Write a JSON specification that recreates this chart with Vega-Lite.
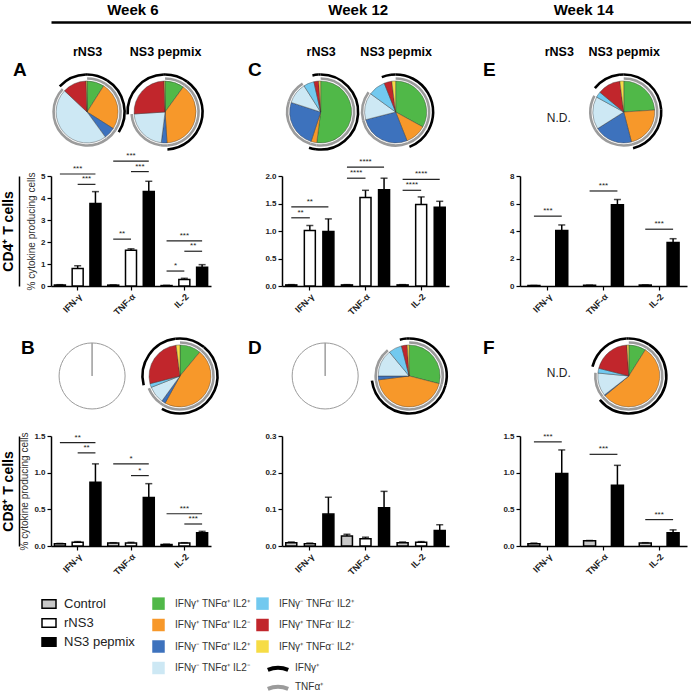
{
  "$schema": "https://vega.github.io/schema/vega-lite/v6.json",
  "background": "white",
  "padding": {"left": 1, "top": 2, "right": 0, "bottom": 0},
  "config": {
    "font": "Liberation Sans",
    "view": {"stroke": null},
    "axis": {"domainColor": "black", "domainWidth": 1.5, "tickColor": "black", "tickWidth": 1.2, "grid": false, "labelColor": "#222"}
  },
  "datasets": {
    "pies": [
      {"panel":"A","stim":"rNS3","subset":"IFNγ⁺ TNFα⁺ IL2⁺","ord":1,"value":0.09},
      {"panel":"A","stim":"rNS3","subset":"IFNγ⁺ TNFα⁺ IL2⁻","ord":2,"value":0.25},
      {"panel":"A","stim":"rNS3","subset":"IFNγ⁻ TNFα⁺ IL2⁺","ord":3,"value":0.06},
      {"panel":"A","stim":"rNS3","subset":"IFNγ⁻ TNFα⁺ IL2⁻","ord":4,"value":0.47},
      {"panel":"A","stim":"rNS3","subset":"IFNγ⁺ TNFα⁻ IL2⁻","ord":6,"value":0.125},
      {"panel":"A","stim":"rNS3","subset":"IFNγ⁺ TNFα⁻ IL2⁺","ord":7,"value":0.005},
      {"panel":"A","stim":"NS3 pepmix","subset":"IFNγ⁺ TNFα⁺ IL2⁺","ord":1,"value":0.10},
      {"panel":"A","stim":"NS3 pepmix","subset":"IFNγ⁺ TNFα⁺ IL2⁻","ord":2,"value":0.39},
      {"panel":"A","stim":"NS3 pepmix","subset":"IFNγ⁻ TNFα⁺ IL2⁺","ord":3,"value":0.03},
      {"panel":"A","stim":"NS3 pepmix","subset":"IFNγ⁻ TNFα⁺ IL2⁻","ord":4,"value":0.22},
      {"panel":"A","stim":"NS3 pepmix","subset":"IFNγ⁺ TNFα⁻ IL2⁻","ord":6,"value":0.255},
      {"panel":"A","stim":"NS3 pepmix","subset":"IFNγ⁺ TNFα⁻ IL2⁺","ord":7,"value":0.005},
      {"panel":"C","stim":"rNS3","subset":"IFNγ⁺ TNFα⁺ IL2⁺","ord":1,"value":0.52},
      {"panel":"C","stim":"rNS3","subset":"IFNγ⁺ TNFα⁺ IL2⁻","ord":2,"value":0.03},
      {"panel":"C","stim":"rNS3","subset":"IFNγ⁻ TNFα⁺ IL2⁺","ord":3,"value":0.25},
      {"panel":"C","stim":"rNS3","subset":"IFNγ⁻ TNFα⁺ IL2⁻","ord":4,"value":0.11},
      {"panel":"C","stim":"rNS3","subset":"IFNγ⁻ TNFα⁻ IL2⁺","ord":5,"value":0.055},
      {"panel":"C","stim":"rNS3","subset":"IFNγ⁺ TNFα⁻ IL2⁻","ord":6,"value":0.025},
      {"panel":"C","stim":"rNS3","subset":"IFNγ⁺ TNFα⁻ IL2⁺","ord":7,"value":0.01},
      {"panel":"C","stim":"NS3 pepmix","subset":"IFNγ⁺ TNFα⁺ IL2⁺","ord":1,"value":0.33},
      {"panel":"C","stim":"NS3 pepmix","subset":"IFNγ⁺ TNFα⁺ IL2⁻","ord":2,"value":0.11},
      {"panel":"C","stim":"NS3 pepmix","subset":"IFNγ⁻ TNFα⁺ IL2⁺","ord":3,"value":0.27},
      {"panel":"C","stim":"NS3 pepmix","subset":"IFNγ⁻ TNFα⁺ IL2⁻","ord":4,"value":0.14},
      {"panel":"C","stim":"NS3 pepmix","subset":"IFNγ⁻ TNFα⁻ IL2⁺","ord":5,"value":0.09},
      {"panel":"C","stim":"NS3 pepmix","subset":"IFNγ⁺ TNFα⁻ IL2⁻","ord":6,"value":0.04},
      {"panel":"C","stim":"NS3 pepmix","subset":"IFNγ⁺ TNFα⁻ IL2⁺","ord":7,"value":0.02},
      {"panel":"E","stim":"NS3 pepmix","subset":"IFNγ⁺ TNFα⁺ IL2⁺","ord":1,"value":0.24},
      {"panel":"E","stim":"NS3 pepmix","subset":"IFNγ⁺ TNFα⁺ IL2⁻","ord":2,"value":0.22},
      {"panel":"E","stim":"NS3 pepmix","subset":"IFNγ⁻ TNFα⁺ IL2⁺","ord":3,"value":0.20},
      {"panel":"E","stim":"NS3 pepmix","subset":"IFNγ⁻ TNFα⁺ IL2⁻","ord":4,"value":0.17},
      {"panel":"E","stim":"NS3 pepmix","subset":"IFNγ⁻ TNFα⁻ IL2⁺","ord":5,"value":0.03},
      {"panel":"E","stim":"NS3 pepmix","subset":"IFNγ⁺ TNFα⁻ IL2⁻","ord":6,"value":0.12},
      {"panel":"E","stim":"NS3 pepmix","subset":"IFNγ⁺ TNFα⁻ IL2⁺","ord":7,"value":0.02},
      {"panel":"B","stim":"rNS3","subset":"none","ord":1,"value":1},
      {"panel":"B","stim":"NS3 pepmix","subset":"IFNγ⁺ TNFα⁺ IL2⁺","ord":1,"value":0.11},
      {"panel":"B","stim":"NS3 pepmix","subset":"IFNγ⁺ TNFα⁺ IL2⁻","ord":2,"value":0.47},
      {"panel":"B","stim":"NS3 pepmix","subset":"IFNγ⁻ TNFα⁺ IL2⁺","ord":3,"value":0.02},
      {"panel":"B","stim":"NS3 pepmix","subset":"IFNγ⁻ TNFα⁺ IL2⁻","ord":4,"value":0.09},
      {"panel":"B","stim":"NS3 pepmix","subset":"IFNγ⁻ TNFα⁻ IL2⁺","ord":5,"value":0.02},
      {"panel":"B","stim":"NS3 pepmix","subset":"IFNγ⁺ TNFα⁻ IL2⁻","ord":6,"value":0.27},
      {"panel":"B","stim":"NS3 pepmix","subset":"IFNγ⁺ TNFα⁻ IL2⁺","ord":7,"value":0.02},
      {"panel":"D","stim":"rNS3","subset":"none","ord":1,"value":1},
      {"panel":"D","stim":"NS3 pepmix","subset":"IFNγ⁺ TNFα⁺ IL2⁺","ord":1,"value":0.29},
      {"panel":"D","stim":"NS3 pepmix","subset":"IFNγ⁺ TNFα⁺ IL2⁻","ord":2,"value":0.44},
      {"panel":"D","stim":"NS3 pepmix","subset":"IFNγ⁻ TNFα⁺ IL2⁺","ord":3,"value":0.02},
      {"panel":"D","stim":"NS3 pepmix","subset":"IFNγ⁻ TNFα⁺ IL2⁻","ord":4,"value":0.14},
      {"panel":"D","stim":"NS3 pepmix","subset":"IFNγ⁻ TNFα⁻ IL2⁺","ord":5,"value":0.07},
      {"panel":"D","stim":"NS3 pepmix","subset":"IFNγ⁺ TNFα⁻ IL2⁻","ord":6,"value":0.03},
      {"panel":"D","stim":"NS3 pepmix","subset":"IFNγ⁺ TNFα⁻ IL2⁺","ord":7,"value":0.01},
      {"panel":"F","stim":"NS3 pepmix","subset":"IFNγ⁺ TNFα⁺ IL2⁺","ord":1,"value":0.09},
      {"panel":"F","stim":"NS3 pepmix","subset":"IFNγ⁺ TNFα⁺ IL2⁻","ord":2,"value":0.55},
      {"panel":"F","stim":"NS3 pepmix","subset":"IFNγ⁻ TNFα⁺ IL2⁺","ord":3,"value":0.005},
      {"panel":"F","stim":"NS3 pepmix","subset":"IFNγ⁻ TNFα⁺ IL2⁻","ord":4,"value":0.12},
      {"panel":"F","stim":"NS3 pepmix","subset":"IFNγ⁻ TNFα⁻ IL2⁺","ord":5,"value":0.025},
      {"panel":"F","stim":"NS3 pepmix","subset":"IFNγ⁺ TNFα⁻ IL2⁻","ord":6,"value":0.20},
      {"panel":"F","stim":"NS3 pepmix","subset":"IFNγ⁺ TNFα⁻ IL2⁺","ord":7,"value":0.01}
    ],
    "bars": [
      {"panel":"A","cyto":"IFN-γ","group":"Control","value":0.05,"hi":0.06},
      {"panel":"A","cyto":"IFN-γ","group":"rNS3","value":0.8,"hi":0.92},
      {"panel":"A","cyto":"IFN-γ","group":"NS3 pepmix","value":3.75,"hi":4.29},
      {"panel":"A","cyto":"TNF-α","group":"Control","value":0.04,"hi":0.05},
      {"panel":"A","cyto":"TNF-α","group":"rNS3","value":1.62,"hi":1.69},
      {"panel":"A","cyto":"TNF-α","group":"NS3 pepmix","value":4.3,"hi":4.76},
      {"panel":"A","cyto":"IL-2","group":"Control","value":0.02,"hi":0.03},
      {"panel":"A","cyto":"IL-2","group":"rNS3","value":0.3,"hi":0.35},
      {"panel":"A","cyto":"IL-2","group":"NS3 pepmix","value":0.85,"hi":0.97},
      {"panel":"C","cyto":"IFN-γ","group":"Control","value":0.02,"hi":0.025},
      {"panel":"C","cyto":"IFN-γ","group":"rNS3","value":1.01,"hi":1.1},
      {"panel":"C","cyto":"IFN-γ","group":"NS3 pepmix","value":0.99,"hi":1.22},
      {"panel":"C","cyto":"TNF-α","group":"Control","value":0.02,"hi":0.025},
      {"panel":"C","cyto":"TNF-α","group":"rNS3","value":1.61,"hi":1.74},
      {"panel":"C","cyto":"TNF-α","group":"NS3 pepmix","value":1.75,"hi":1.96},
      {"panel":"C","cyto":"IL-2","group":"Control","value":0.02,"hi":0.025},
      {"panel":"C","cyto":"IL-2","group":"rNS3","value":1.48,"hi":1.62},
      {"panel":"C","cyto":"IL-2","group":"NS3 pepmix","value":1.43,"hi":1.54},
      {"panel":"E","cyto":"IFN-γ","group":"Control","value":0.03,"hi":0.04},
      {"panel":"E","cyto":"IFN-γ","group":"NS3 pepmix","value":4.04,"hi":4.44},
      {"panel":"E","cyto":"TNF-α","group":"Control","value":0.05,"hi":0.06},
      {"panel":"E","cyto":"TNF-α","group":"NS3 pepmix","value":5.91,"hi":6.29},
      {"panel":"E","cyto":"IL-2","group":"Control","value":0.07,"hi":0.08},
      {"panel":"E","cyto":"IL-2","group":"NS3 pepmix","value":3.16,"hi":3.44},
      {"panel":"B","cyto":"IFN-γ","group":"Control","value":0.03,"hi":0.035},
      {"panel":"B","cyto":"IFN-γ","group":"rNS3","value":0.05,"hi":0.06},
      {"panel":"B","cyto":"IFN-γ","group":"NS3 pepmix","value":0.87,"hi":1.12},
      {"panel":"B","cyto":"TNF-α","group":"Control","value":0.04,"hi":0.045},
      {"panel":"B","cyto":"TNF-α","group":"rNS3","value":0.04,"hi":0.05},
      {"panel":"B","cyto":"TNF-α","group":"NS3 pepmix","value":0.66,"hi":0.85},
      {"panel":"B","cyto":"IL-2","group":"Control","value":0.02,"hi":0.025},
      {"panel":"B","cyto":"IL-2","group":"rNS3","value":0.04,"hi":0.045},
      {"panel":"B","cyto":"IL-2","group":"NS3 pepmix","value":0.18,"hi":0.2},
      {"panel":"D","cyto":"IFN-γ","group":"Control","value":0.009,"hi":0.011},
      {"panel":"D","cyto":"IFN-γ","group":"rNS3","value":0.006,"hi":0.008},
      {"panel":"D","cyto":"IFN-γ","group":"NS3 pepmix","value":0.087,"hi":0.133},
      {"panel":"D","cyto":"TNF-α","group":"Control","value":0.027,"hi":0.032},
      {"panel":"D","cyto":"TNF-α","group":"rNS3","value":0.02,"hi":0.024},
      {"panel":"D","cyto":"TNF-α","group":"NS3 pepmix","value":0.104,"hi":0.149},
      {"panel":"D","cyto":"IL-2","group":"Control","value":0.009,"hi":0.011},
      {"panel":"D","cyto":"IL-2","group":"rNS3","value":0.01,"hi":0.012},
      {"panel":"D","cyto":"IL-2","group":"NS3 pepmix","value":0.042,"hi":0.058},
      {"panel":"F","cyto":"IFN-γ","group":"Control","value":0.03,"hi":0.04},
      {"panel":"F","cyto":"IFN-γ","group":"NS3 pepmix","value":0.99,"hi":1.31},
      {"panel":"F","cyto":"TNF-α","group":"Control","value":0.07,"hi":0.075},
      {"panel":"F","cyto":"TNF-α","group":"NS3 pepmix","value":0.83,"hi":1.1},
      {"panel":"F","cyto":"IL-2","group":"Control","value":0.04,"hi":0.045},
      {"panel":"F","cyto":"IL-2","group":"NS3 pepmix","value":0.18,"hi":0.22}
    ],
    "sig": [
      {"panel":"A","id":"a1","cyto":"IFN-γ","group":"Control","y":5.09},{"panel":"A","id":"a1","cyto":"IFN-γ","group":"NS3 pepmix","y":5.09},
      {"panel":"A","id":"a2","cyto":"IFN-γ","group":"rNS3","y":4.62},{"panel":"A","id":"a2","cyto":"IFN-γ","group":"NS3 pepmix","y":4.62},
      {"panel":"A","id":"a3","cyto":"TNF-α","group":"Control","y":5.68},{"panel":"A","id":"a3","cyto":"TNF-α","group":"NS3 pepmix","y":5.68},
      {"panel":"A","id":"a4","cyto":"TNF-α","group":"rNS3","y":5.2},{"panel":"A","id":"a4","cyto":"TNF-α","group":"NS3 pepmix","y":5.2},
      {"panel":"A","id":"a5","cyto":"TNF-α","group":"Control","y":2.13},{"panel":"A","id":"a5","cyto":"TNF-α","group":"rNS3","y":2.13},
      {"panel":"A","id":"a6","cyto":"IL-2","group":"Control","y":2.05},{"panel":"A","id":"a6","cyto":"IL-2","group":"NS3 pepmix","y":2.05},
      {"panel":"A","id":"a7","cyto":"IL-2","group":"rNS3","y":1.58},{"panel":"A","id":"a7","cyto":"IL-2","group":"NS3 pepmix","y":1.58},
      {"panel":"A","id":"a8","cyto":"IL-2","group":"Control","y":0.68},{"panel":"A","id":"a8","cyto":"IL-2","group":"rNS3","y":0.68},
      {"panel":"C","id":"c1","cyto":"IFN-γ","group":"Control","y":1.24},{"panel":"C","id":"c1","cyto":"IFN-γ","group":"rNS3","y":1.24},
      {"panel":"C","id":"c2","cyto":"IFN-γ","group":"Control","y":1.44},{"panel":"C","id":"c2","cyto":"IFN-γ","group":"NS3 pepmix","y":1.44},
      {"panel":"C","id":"c3","cyto":"TNF-α","group":"Control","y":1.96},{"panel":"C","id":"c3","cyto":"TNF-α","group":"rNS3","y":1.96},
      {"panel":"C","id":"c4","cyto":"TNF-α","group":"Control","y":2.16},{"panel":"C","id":"c4","cyto":"TNF-α","group":"NS3 pepmix","y":2.16},
      {"panel":"C","id":"c5","cyto":"IL-2","group":"Control","y":1.74},{"panel":"C","id":"c5","cyto":"IL-2","group":"rNS3","y":1.74},
      {"panel":"C","id":"c6","cyto":"IL-2","group":"Control","y":1.94},{"panel":"C","id":"c6","cyto":"IL-2","group":"NS3 pepmix","y":1.94},
      {"panel":"E","id":"e1","cyto":"IFN-γ","group":"Control","y":5.08},{"panel":"E","id":"e1","cyto":"IFN-γ","group":"NS3 pepmix","y":5.08},
      {"panel":"E","id":"e2","cyto":"TNF-α","group":"Control","y":6.91},{"panel":"E","id":"e2","cyto":"TNF-α","group":"NS3 pepmix","y":6.91},
      {"panel":"E","id":"e3","cyto":"IL-2","group":"Control","y":4.13},{"panel":"E","id":"e3","cyto":"IL-2","group":"NS3 pepmix","y":4.13},
      {"panel":"B","id":"b1","cyto":"IFN-γ","group":"Control","y":1.41},{"panel":"B","id":"b1","cyto":"IFN-γ","group":"NS3 pepmix","y":1.41},
      {"panel":"B","id":"b2","cyto":"IFN-γ","group":"rNS3","y":1.27},{"panel":"B","id":"b2","cyto":"IFN-γ","group":"NS3 pepmix","y":1.27},
      {"panel":"B","id":"b3","cyto":"TNF-α","group":"Control","y":1.12},{"panel":"B","id":"b3","cyto":"TNF-α","group":"NS3 pepmix","y":1.12},
      {"panel":"B","id":"b4","cyto":"TNF-α","group":"rNS3","y":0.96},{"panel":"B","id":"b4","cyto":"TNF-α","group":"NS3 pepmix","y":0.96},
      {"panel":"B","id":"b5","cyto":"IL-2","group":"Control","y":0.44},{"panel":"B","id":"b5","cyto":"IL-2","group":"NS3 pepmix","y":0.44},
      {"panel":"B","id":"b6","cyto":"IL-2","group":"rNS3","y":0.30},{"panel":"B","id":"b6","cyto":"IL-2","group":"NS3 pepmix","y":0.30},
      {"panel":"F","id":"f1","cyto":"IFN-γ","group":"Control","y":1.42},{"panel":"F","id":"f1","cyto":"IFN-γ","group":"NS3 pepmix","y":1.42},
      {"panel":"F","id":"f2","cyto":"TNF-α","group":"Control","y":1.25},{"panel":"F","id":"f2","cyto":"TNF-α","group":"NS3 pepmix","y":1.25},
      {"panel":"F","id":"f3","cyto":"IL-2","group":"Control","y":0.36},{"panel":"F","id":"f3","cyto":"IL-2","group":"NS3 pepmix","y":0.36}
    ],
    "sigtext": [
      {"panel":"A","cyto":"IFN-γ","group":"rNS3","y":5.09,"label":"***"},
      {"panel":"A","cyto":"IFN-γ","group":"m2","y":4.62,"label":"***"},
      {"panel":"A","cyto":"TNF-α","group":"rNS3","y":5.68,"label":"***"},
      {"panel":"A","cyto":"TNF-α","group":"m2","y":5.2,"label":"***"},
      {"panel":"A","cyto":"TNF-α","group":"m1","y":2.13,"label":"**"},
      {"panel":"A","cyto":"IL-2","group":"rNS3","y":2.05,"label":"***"},
      {"panel":"A","cyto":"IL-2","group":"m2","y":1.58,"label":"**"},
      {"panel":"A","cyto":"IL-2","group":"m1","y":0.68,"label":"*"},
      {"panel":"C","cyto":"IFN-γ","group":"m1","y":1.24,"label":"**"},
      {"panel":"C","cyto":"IFN-γ","group":"rNS3","y":1.44,"label":"**"},
      {"panel":"C","cyto":"TNF-α","group":"m1","y":1.96,"label":"****"},
      {"panel":"C","cyto":"TNF-α","group":"rNS3","y":2.16,"label":"****"},
      {"panel":"C","cyto":"IL-2","group":"m1","y":1.74,"label":"****"},
      {"panel":"C","cyto":"IL-2","group":"rNS3","y":1.94,"label":"****"},
      {"panel":"E","cyto":"IFN-γ","group":"mid","y":5.08,"label":"***"},
      {"panel":"E","cyto":"TNF-α","group":"mid","y":6.91,"label":"***"},
      {"panel":"E","cyto":"IL-2","group":"mid","y":4.13,"label":"***"},
      {"panel":"B","cyto":"IFN-γ","group":"rNS3","y":1.41,"label":"**"},
      {"panel":"B","cyto":"IFN-γ","group":"m2","y":1.27,"label":"**"},
      {"panel":"B","cyto":"TNF-α","group":"rNS3","y":1.12,"label":"*"},
      {"panel":"B","cyto":"TNF-α","group":"m2","y":0.96,"label":"*"},
      {"panel":"B","cyto":"IL-2","group":"rNS3","y":0.44,"label":"***"},
      {"panel":"B","cyto":"IL-2","group":"m2","y":0.30,"label":"***"},
      {"panel":"F","cyto":"IFN-γ","group":"mid","y":1.42,"label":"***"},
      {"panel":"F","cyto":"TNF-α","group":"mid","y":1.25,"label":"***"},
      {"panel":"F","cyto":"IL-2","group":"mid","y":0.36,"label":"***"}
    ]
  },
  "bounds": "flush",
  "spacing": 53,
  "vconcat": [
    {
      "width": 640, "height": 1,
      "data": {"values": [{"week": "Week 6"}, {"week": "Week 12"}, {"week": "Week 14"}]},
      "mark": {"type": "point", "opacity": 0},
      "encoding": {
        "x": {"field": "week", "type": "nominal", "sort": null,
              "scale": {"type": "point", "padding": 0.42, "align": 0.43},
              "axis": {"orient": "top", "title": null, "ticks": false, "labelAngle": 0, "labelFontSize": 15, "labelFontWeight": "bold", "labelColor": "black", "labelPadding": 5, "domainWidth": 2.5, "domainColor": "black"}}
      }
    },
    {
      "columns": 3,
      "bounds": "flush",
      "spacing": {"row": 20, "column": 71},
      "resolve": {"scale": {"xOffset": "independent", "x": "independent", "y": "independent"}},
      "concat": [
        {
          "width": 160, "height": 80,
          "title": {"text": "A", "orient": "top", "anchor": "start", "frame": "group", "fontSize": 19, "fontWeight": "bold", "color": "black", "dx": -38, "dy": 39},
          "encoding": {
            "x": {"field": "stim", "type": "nominal", "scale": {"type": "point", "domain": ["rNS3", "NS3 pepmix"], "padding": 0.526, "align": 0.44}, "axis": {"orient": "top", "title": null, "domain": false, "ticks": false, "labelAngle": 0, "labelFontSize": 12.5, "labelFontWeight": "bold", "labelColor": "black", "labelPadding": 18}},
            "y": {"datum": "c", "type": "nominal", "scale": {"type": "point", "align": 0.45}, "axis": null}
          },
          "layer": [
            {"data": {"name": "pies"}, "transform": [{"filter": "datum.panel === 'A'"}, {"stack": "value", "groupby": ["stim"], "sort": [{"field": "ord", "order": "ascending"}], "offset": "normalize", "as": ["t0", "t1"]}, {"filter": "datum.subset !== 'none'"}],
             "mark": {"type": "arc", "radius": 31, "stroke": "#333", "strokeWidth": 0.4},
             "encoding": {"theta": {"field": "t0", "type": "quantitative", "scale": {"domain": [0, 1], "range": [0, 6.2831]}}, "theta2": {"field": "t1"},
               "color": {"field": "subset", "type": "nominal", "scale": {"domain": ["IFNγ⁺ TNFα⁺ IL2⁺", "IFNγ⁺ TNFα⁺ IL2⁻", "IFNγ⁻ TNFα⁺ IL2⁺", "IFNγ⁻ TNFα⁺ IL2⁻", "IFNγ⁻ TNFα⁻ IL2⁺", "IFNγ⁺ TNFα⁻ IL2⁻", "IFNγ⁺ TNFα⁻ IL2⁺"], "range": ["#50b848", "#f7982a", "#3d72bd", "#cde8f4", "#72c9ef", "#c1262c", "#f6dc45"]},
                 "legend": {"orient": "none", "legendX": 101, "legendY": 575, "title": null, "columns": 2, "columnPadding": 6, "rowPadding": 8.5, "symbolType": "square", "symbolSize": 156, "symbolStrokeWidth": 0, "labelFontSize": 10, "labelOffset": 10, "labelColor": "#333"}}}},
            {"data": {"name": "pies"}, "transform": [{"filter": "datum.panel === 'A'"}, {"stack": "value", "groupby": ["stim"], "sort": [{"field": "ord", "order": "ascending"}], "offset": "normalize", "as": ["t0", "t1"]}, {"filter": {"field": "subset", "oneOf": ["IFNγ⁺ TNFα⁺ IL2⁺", "IFNγ⁺ TNFα⁺ IL2⁻", "IFNγ⁻ TNFα⁺ IL2⁺", "IFNγ⁻ TNFα⁺ IL2⁻"]}}],
             "mark": {"type": "arc", "radius": 33.5, "radius2": 33.5, "filled": false, "strokeWidth": 2.6},
             "encoding": {"theta": {"field": "t0", "type": "quantitative", "scale": {"domain": [0, 1], "range": [0, 6.2831]}}, "theta2": {"field": "t1"},
               "stroke": {"datum": "TNFα⁺", "type": "nominal", "scale": {"domain": ["IFNγ⁺", "TNFα⁺"], "range": ["black", "#9b9b9b"]},
                 "legend": {"orient": "none", "legendX": 219, "legendY": 638, "title": null, "symbolType": "M-1.7,0.3Q0,-0.4,1.7,0.3", "symbolSize": 144, "symbolStrokeWidth": 4, "labelFontSize": 10, "labelOffset": 9, "rowPadding": 0, "labelColor": "#333"}}}},
            {"data": {"name": "pies"}, "transform": [{"filter": "datum.panel === 'A'"}, {"stack": "value", "groupby": ["stim"], "sort": [{"field": "ord", "order": "ascending"}], "offset": "normalize", "as": ["t0", "t1"]}, {"filter": {"field": "subset", "oneOf": ["IFNγ⁺ TNFα⁺ IL2⁺", "IFNγ⁺ TNFα⁺ IL2⁻", "IFNγ⁺ TNFα⁻ IL2⁻", "IFNγ⁺ TNFα⁻ IL2⁺"]}}],
             "mark": {"type": "arc", "radius": 37.5, "radius2": 37.5, "filled": false, "strokeWidth": 2.6},
             "encoding": {"theta": {"field": "t0", "type": "quantitative", "scale": {"domain": [0, 1], "range": [0, 6.2831]}}, "theta2": {"field": "t1"},
               "stroke": {"datum": "IFNγ⁺", "type": "nominal", "scale": {"domain": ["IFNγ⁺", "TNFα⁺"], "range": ["black", "#9b9b9b"]}}}}
          ]
        },
        {
          "width": 167, "height": 80,
          "title": {"text": "C", "orient": "top", "anchor": "start", "frame": "group", "fontSize": 19, "fontWeight": "bold", "color": "black", "dx": -34, "dy": 39},
          "encoding": {
            "x": {"field": "stim", "type": "nominal", "scale": {"type": "point", "domain": ["rNS3", "NS3 pepmix"], "padding": 0.613, "align": 0.42}, "axis": {"orient": "top", "title": null, "domain": false, "ticks": false, "labelAngle": 0, "labelFontSize": 12.5, "labelFontWeight": "bold", "labelColor": "black", "labelPadding": 18}},
            "y": {"datum": "c", "type": "nominal", "scale": {"type": "point", "align": 0.45}, "axis": null}
          },
          "layer": [
            {"data": {"name": "pies"}, "transform": [{"filter": "datum.panel === 'C'"}, {"stack": "value", "groupby": ["stim"], "sort": [{"field": "ord", "order": "ascending"}], "offset": "normalize", "as": ["t0", "t1"]}, {"filter": "datum.subset !== 'none'"}],
             "mark": {"type": "arc", "radius": 31, "stroke": "#333", "strokeWidth": 0.4},
             "encoding": {"theta": {"field": "t0", "type": "quantitative", "scale": {"domain": [0, 1], "range": [0, 6.2831]}}, "theta2": {"field": "t1"},
               "color": {"field": "subset", "type": "nominal", "scale": {"domain": ["IFNγ⁺ TNFα⁺ IL2⁺", "IFNγ⁺ TNFα⁺ IL2⁻", "IFNγ⁻ TNFα⁺ IL2⁺", "IFNγ⁻ TNFα⁺ IL2⁻", "IFNγ⁻ TNFα⁻ IL2⁺", "IFNγ⁺ TNFα⁻ IL2⁻", "IFNγ⁺ TNFα⁻ IL2⁺"], "range": ["#50b848", "#f7982a", "#3d72bd", "#cde8f4", "#72c9ef", "#c1262c", "#f6dc45"]}}}},
            {"data": {"name": "pies"}, "transform": [{"filter": "datum.panel === 'C'"}, {"stack": "value", "groupby": ["stim"], "sort": [{"field": "ord", "order": "ascending"}], "offset": "normalize", "as": ["t0", "t1"]}, {"filter": {"field": "subset", "oneOf": ["IFNγ⁺ TNFα⁺ IL2⁺", "IFNγ⁺ TNFα⁺ IL2⁻", "IFNγ⁻ TNFα⁺ IL2⁺", "IFNγ⁻ TNFα⁺ IL2⁻"]}}],
             "mark": {"type": "arc", "radius": 33.5, "radius2": 33.5, "filled": false, "strokeWidth": 2.6},
             "encoding": {"theta": {"field": "t0", "type": "quantitative", "scale": {"domain": [0, 1], "range": [0, 6.2831]}}, "theta2": {"field": "t1"},
               "stroke": {"datum": "TNFα⁺", "type": "nominal", "scale": {"domain": ["IFNγ⁺", "TNFα⁺"], "range": ["black", "#9b9b9b"]}}}},
            {"data": {"name": "pies"}, "transform": [{"filter": "datum.panel === 'C'"}, {"stack": "value", "groupby": ["stim"], "sort": [{"field": "ord", "order": "ascending"}], "offset": "normalize", "as": ["t0", "t1"]}, {"filter": {"field": "subset", "oneOf": ["IFNγ⁺ TNFα⁺ IL2⁺", "IFNγ⁺ TNFα⁺ IL2⁻", "IFNγ⁺ TNFα⁻ IL2⁻", "IFNγ⁺ TNFα⁻ IL2⁺"]}}],
             "mark": {"type": "arc", "radius": 37.5, "radius2": 37.5, "filled": false, "strokeWidth": 2.6},
             "encoding": {"theta": {"field": "t0", "type": "quantitative", "scale": {"domain": [0, 1], "range": [0, 6.2831]}}, "theta2": {"field": "t1"},
               "stroke": {"datum": "IFNγ⁺", "type": "nominal", "scale": {"domain": ["IFNγ⁺", "TNFα⁺"], "range": ["black", "#9b9b9b"]}}}}
          ]
        },
        {
          "width": 167, "height": 80,
          "title": {"text": "E", "orient": "top", "anchor": "start", "frame": "group", "fontSize": 19, "fontWeight": "bold", "color": "black", "dx": -37, "dy": 39},
          "encoding": {
            "x": {"field": "stim", "type": "nominal", "scale": {"type": "point", "domain": ["rNS3", "NS3 pepmix"], "padding": 0.785, "align": 0.38}, "axis": {"orient": "top", "title": null, "domain": false, "ticks": false, "labelAngle": 0, "labelFontSize": 12.5, "labelFontWeight": "bold", "labelColor": "black", "labelPadding": 18}},
            "y": {"datum": "c", "type": "nominal", "scale": {"type": "point", "align": 0.45}, "axis": null}
          },
          "layer": [
            {"data": {"name": "pies"}, "transform": [{"filter": "datum.panel === 'E'"}, {"stack": "value", "groupby": ["stim"], "sort": [{"field": "ord", "order": "ascending"}], "offset": "normalize", "as": ["t0", "t1"]}, {"filter": "datum.subset !== 'none'"}],
             "mark": {"type": "arc", "radius": 31, "stroke": "#333", "strokeWidth": 0.4},
             "encoding": {"theta": {"field": "t0", "type": "quantitative", "scale": {"domain": [0, 1], "range": [0, 6.2831]}}, "theta2": {"field": "t1"},
               "color": {"field": "subset", "type": "nominal", "scale": {"domain": ["IFNγ⁺ TNFα⁺ IL2⁺", "IFNγ⁺ TNFα⁺ IL2⁻", "IFNγ⁻ TNFα⁺ IL2⁺", "IFNγ⁻ TNFα⁺ IL2⁻", "IFNγ⁻ TNFα⁻ IL2⁺", "IFNγ⁺ TNFα⁻ IL2⁻", "IFNγ⁺ TNFα⁻ IL2⁺"], "range": ["#50b848", "#f7982a", "#3d72bd", "#cde8f4", "#72c9ef", "#c1262c", "#f6dc45"]}}}},
            {"data": {"name": "pies"}, "transform": [{"filter": "datum.panel === 'E'"}, {"stack": "value", "groupby": ["stim"], "sort": [{"field": "ord", "order": "ascending"}], "offset": "normalize", "as": ["t0", "t1"]}, {"filter": {"field": "subset", "oneOf": ["IFNγ⁺ TNFα⁺ IL2⁺", "IFNγ⁺ TNFα⁺ IL2⁻", "IFNγ⁻ TNFα⁺ IL2⁺", "IFNγ⁻ TNFα⁺ IL2⁻"]}}],
             "mark": {"type": "arc", "radius": 33.5, "radius2": 33.5, "filled": false, "strokeWidth": 2.6},
             "encoding": {"theta": {"field": "t0", "type": "quantitative", "scale": {"domain": [0, 1], "range": [0, 6.2831]}}, "theta2": {"field": "t1"},
               "stroke": {"datum": "TNFα⁺", "type": "nominal", "scale": {"domain": ["IFNγ⁺", "TNFα⁺"], "range": ["black", "#9b9b9b"]}}}},
            {"data": {"name": "pies"}, "transform": [{"filter": "datum.panel === 'E'"}, {"stack": "value", "groupby": ["stim"], "sort": [{"field": "ord", "order": "ascending"}], "offset": "normalize", "as": ["t0", "t1"]}, {"filter": {"field": "subset", "oneOf": ["IFNγ⁺ TNFα⁺ IL2⁺", "IFNγ⁺ TNFα⁺ IL2⁻", "IFNγ⁺ TNFα⁻ IL2⁻", "IFNγ⁺ TNFα⁻ IL2⁺"]}}],
             "mark": {"type": "arc", "radius": 37.5, "radius2": 37.5, "filled": false, "strokeWidth": 2.6},
             "encoding": {"theta": {"field": "t0", "type": "quantitative", "scale": {"domain": [0, 1], "range": [0, 6.2831]}}, "theta2": {"field": "t1"},
               "stroke": {"datum": "IFNγ⁺", "type": "nominal", "scale": {"domain": ["IFNγ⁺", "TNFα⁺"], "range": ["black", "#9b9b9b"]}}}},
            {"data": {"values": [{"stim": "rNS3", "label": "N.D."}]}, "mark": {"type": "text", "fontSize": 12, "color": "#222", "dy": 6}, "encoding": {"text": {"field": "label"}}}
          ]
        },
        {
          "width": 160, "height": 110,
          "resolve": {"axis": {"y": "independent"}},
          "encoding": {
            "x": {"field": "cyto", "type": "nominal", "sort": ["IFN-γ", "TNF-α", "IL-2"], "scale": {"paddingInner": 0, "paddingOuter": 0}, "axis": {"title": null, "labelAngle": -45, "labelFontSize": 9, "labelFontWeight": "bold", "tickSize": 4, "labelPadding": 2}},
            "xOffset": {"field": "group", "type": "nominal", "scale": {"type": "point", "domain": ["Control", "m1", "rNS3", "m2", "NS3 pepmix"], "padding": 1.55}}
          },
          "layer": [
            {"data": {"name": "bars"}, "transform": [{"filter": "datum.panel === 'A'"}], "mark": {"type": "bar", "width": 11, "stroke": "black", "strokeWidth": 1.5},
             "encoding": {"y": {"field": "value", "type": "quantitative", "scale": {"domain": [0, 5], "nice": false}, "axis": {"values": [0, 1, 2, 3, 4, 5], "title": "% cytokine producing cells", "titleFontSize": 10, "titleFontWeight": "normal", "titleColor": "#333", "titlePadding": 4, "labelFontSize": 8, "labelFontWeight": "bold", "tickSize": 4}},
               "fill": {"field": "group", "type": "nominal", "scale": {"domain": ["Control", "rNS3", "NS3 pepmix"], "range": ["#c8c8c8", "#ffffff", "#000000"]},
                 "legend": {"orient": "none", "legendX": -10, "legendY": 574, "title": null, "symbolType": "M-1,-0.6H1V0.6H-1Z", "symbolSize": 196, "symbolStrokeColor": "black", "symbolStrokeWidth": 1.5, "labelFontSize": 13, "labelOffset": 7, "rowPadding": 3, "labelColor": "#222"}}}},
            {"data": {"name": "bars"}, "transform": [{"filter": "datum.panel === 'A'"}], "mark": {"type": "rule", "color": "black", "strokeWidth": 1.5}, "encoding": {"y": {"field": "value", "type": "quantitative", "axis": null}, "y2": {"field": "hi"}}},
            {"data": {"name": "bars"}, "transform": [{"filter": "datum.panel === 'A'"}], "mark": {"type": "tick", "orient": "horizontal", "size": 7, "thickness": 1.5, "color": "black"}, "encoding": {"y": {"field": "hi", "type": "quantitative", "axis": null}}},
            {"data": {"name": "sig"}, "transform": [{"filter": "datum.panel === 'A'"}], "mark": {"type": "line", "color": "#222", "strokeWidth": 1.2}, "encoding": {"y": {"field": "y", "type": "quantitative", "axis": null}, "detail": {"field": "id"}}},
            {"data": {"name": "sigtext"}, "transform": [{"filter": "datum.panel === 'A'"}], "mark": {"type": "text", "fontSize": 8, "baseline": "bottom", "dy": -1, "color": "#222"}, "encoding": {"y": {"field": "y", "type": "quantitative", "axis": null}, "text": {"field": "label"}}},
            {"data": {"name": "bars"}, "transform": [{"filter": "datum.panel === 'A'"}], "mark": {"type": "tick", "opacity": 0}, "encoding": {"y": {"field": "value", "type": "quantitative", "axis": {"orient": "left", "offset": 32, "ticks": false, "labels": false, "domainWidth": 1.5, "title": "CD4⁺ T cells", "titleFontSize": 14, "titleFontWeight": "bold", "titleColor": "black", "titlePadding": 4}}}}
          ]
        },
        {
          "width": 167, "height": 110,
          "resolve": {"axis": {"y": "independent"}},
          "encoding": {
            "x": {"field": "cyto", "type": "nominal", "sort": ["IFN-γ", "TNF-α", "IL-2"], "scale": {"paddingInner": 0, "paddingOuter": 0}, "axis": {"title": null, "labelAngle": -45, "labelFontSize": 9, "labelFontWeight": "bold", "tickSize": 4, "labelPadding": 2}},
            "xOffset": {"field": "group", "type": "nominal", "scale": {"type": "point", "domain": ["Control", "m1", "rNS3", "m2", "NS3 pepmix"], "padding": 1.7}}
          },
          "layer": [
            {"data": {"name": "bars"}, "transform": [{"filter": "datum.panel === 'C'"}], "mark": {"type": "bar", "width": 11, "stroke": "black", "strokeWidth": 1.5},
             "encoding": {"y": {"field": "value", "type": "quantitative", "scale": {"domain": [0, 2], "nice": false}, "axis": {"values": [0, 0.5, 1, 1.5, 2], "format": ".1f", "title": null, "labelFontSize": 8, "labelFontWeight": "bold", "tickSize": 4}},
               "fill": {"field": "group", "type": "nominal", "scale": {"domain": ["Control", "rNS3", "NS3 pepmix"], "range": ["#c8c8c8", "#ffffff", "#000000"]}}}},
            {"data": {"name": "bars"}, "transform": [{"filter": "datum.panel === 'C'"}], "mark": {"type": "rule", "color": "black", "strokeWidth": 1.5}, "encoding": {"y": {"field": "value", "type": "quantitative", "axis": null}, "y2": {"field": "hi"}}},
            {"data": {"name": "bars"}, "transform": [{"filter": "datum.panel === 'C'"}], "mark": {"type": "tick", "orient": "horizontal", "size": 7, "thickness": 1.5, "color": "black"}, "encoding": {"y": {"field": "hi", "type": "quantitative", "axis": null}}},
            {"data": {"name": "sig"}, "transform": [{"filter": "datum.panel === 'C'"}], "mark": {"type": "line", "color": "#222", "strokeWidth": 1.2}, "encoding": {"y": {"field": "y", "type": "quantitative", "axis": null}, "detail": {"field": "id"}}},
            {"data": {"name": "sigtext"}, "transform": [{"filter": "datum.panel === 'C'"}], "mark": {"type": "text", "fontSize": 8, "baseline": "bottom", "dy": -1, "color": "#222"}, "encoding": {"y": {"field": "y", "type": "quantitative", "axis": null}, "text": {"field": "label"}}}
          ]
        },
        {
          "width": 167, "height": 110,
          "resolve": {"axis": {"y": "independent"}},
          "encoding": {
            "x": {"field": "cyto", "type": "nominal", "sort": ["IFN-γ", "TNF-α", "IL-2"], "scale": {"paddingInner": 0, "paddingOuter": 0}, "axis": {"title": null, "labelAngle": -45, "labelFontSize": 9, "labelFontWeight": "bold", "tickSize": 4, "labelPadding": 2}},
            "xOffset": {"field": "group", "type": "nominal", "scale": {"type": "point", "domain": ["Control", "mid", "NS3 pepmix"], "padding": 1.53}}
          },
          "layer": [
            {"data": {"name": "bars"}, "transform": [{"filter": "datum.panel === 'E'"}], "mark": {"type": "bar", "width": 12, "stroke": "black", "strokeWidth": 1.5},
             "encoding": {"y": {"field": "value", "type": "quantitative", "scale": {"domain": [0, 8], "nice": false}, "axis": {"values": [0, 2, 4, 6, 8], "title": null, "labelFontSize": 8, "labelFontWeight": "bold", "tickSize": 4}},
               "fill": {"field": "group", "type": "nominal", "scale": {"domain": ["Control", "rNS3", "NS3 pepmix"], "range": ["#c8c8c8", "#ffffff", "#000000"]}}}},
            {"data": {"name": "bars"}, "transform": [{"filter": "datum.panel === 'E'"}], "mark": {"type": "rule", "color": "black", "strokeWidth": 1.5}, "encoding": {"y": {"field": "value", "type": "quantitative", "axis": null}, "y2": {"field": "hi"}}},
            {"data": {"name": "bars"}, "transform": [{"filter": "datum.panel === 'E'"}], "mark": {"type": "tick", "orient": "horizontal", "size": 7, "thickness": 1.5, "color": "black"}, "encoding": {"y": {"field": "hi", "type": "quantitative", "axis": null}}},
            {"data": {"name": "sig"}, "transform": [{"filter": "datum.panel === 'E'"}], "mark": {"type": "line", "color": "#222", "strokeWidth": 1.2}, "encoding": {"y": {"field": "y", "type": "quantitative", "axis": null}, "detail": {"field": "id"}}},
            {"data": {"name": "sigtext"}, "transform": [{"filter": "datum.panel === 'E'"}], "mark": {"type": "text", "fontSize": 8, "baseline": "bottom", "dy": -1, "color": "#222"}, "encoding": {"y": {"field": "y", "type": "quantitative", "axis": null}, "text": {"field": "label"}}}
          ]
        },
        {
          "width": 160, "height": 110,
          "title": {"text": "B", "orient": "top", "anchor": "start", "frame": "group", "fontSize": 19, "fontWeight": "bold", "color": "black", "dx": -30, "dy": 56},
          "encoding": {
            "x": {"field": "stim", "type": "nominal", "scale": {"type": "point", "domain": ["rNS3", "NS3 pepmix"], "padding": 0.41, "align": 0.57}, "axis": null},
            "y": {"datum": "c", "type": "nominal", "scale": {"type": "point", "align": 0.636}, "axis": null}
          },
          "layer": [
            {"data": {"name": "pies"}, "transform": [{"filter": "datum.panel === 'B'"}, {"stack": "value", "groupby": ["stim"], "sort": [{"field": "ord", "order": "ascending"}], "offset": "normalize", "as": ["t0", "t1"]}, {"filter": "datum.subset !== 'none'"}],
             "mark": {"type": "arc", "radius": 31, "stroke": "#333", "strokeWidth": 0.4},
             "encoding": {"theta": {"field": "t0", "type": "quantitative", "scale": {"domain": [0, 1], "range": [0, 6.2831]}}, "theta2": {"field": "t1"},
               "color": {"field": "subset", "type": "nominal", "scale": {"domain": ["IFNγ⁺ TNFα⁺ IL2⁺", "IFNγ⁺ TNFα⁺ IL2⁻", "IFNγ⁻ TNFα⁺ IL2⁺", "IFNγ⁻ TNFα⁺ IL2⁻", "IFNγ⁻ TNFα⁻ IL2⁺", "IFNγ⁺ TNFα⁻ IL2⁻", "IFNγ⁺ TNFα⁻ IL2⁺"], "range": ["#50b848", "#f7982a", "#3d72bd", "#cde8f4", "#72c9ef", "#c1262c", "#f6dc45"]}}}},
            {"data": {"name": "pies"}, "transform": [{"filter": "datum.panel === 'B'"}, {"stack": "value", "groupby": ["stim"], "sort": [{"field": "ord", "order": "ascending"}], "offset": "normalize", "as": ["t0", "t1"]}, {"filter": "datum.subset === 'none'"}],
             "mark": {"type": "arc", "radius": 33, "fill": "white", "stroke": "#9b9b9b", "strokeWidth": 1},
             "encoding": {"theta": {"field": "t0", "type": "quantitative", "scale": {"domain": [0, 1], "range": [0, 6.2831]}}, "theta2": {"field": "t1"}}},
            {"data": {"name": "pies"}, "transform": [{"filter": "datum.panel === 'B'"}, {"stack": "value", "groupby": ["stim"], "sort": [{"field": "ord", "order": "ascending"}], "offset": "normalize", "as": ["t0", "t1"]}, {"filter": {"field": "subset", "oneOf": ["IFNγ⁺ TNFα⁺ IL2⁺", "IFNγ⁺ TNFα⁺ IL2⁻", "IFNγ⁻ TNFα⁺ IL2⁺", "IFNγ⁻ TNFα⁺ IL2⁻"]}}],
             "mark": {"type": "arc", "radius": 33.5, "radius2": 33.5, "filled": false, "strokeWidth": 2.6},
             "encoding": {"theta": {"field": "t0", "type": "quantitative", "scale": {"domain": [0, 1], "range": [0, 6.2831]}}, "theta2": {"field": "t1"},
               "stroke": {"datum": "TNFα⁺", "type": "nominal", "scale": {"domain": ["IFNγ⁺", "TNFα⁺"], "range": ["black", "#9b9b9b"]}}}},
            {"data": {"name": "pies"}, "transform": [{"filter": "datum.panel === 'B'"}, {"stack": "value", "groupby": ["stim"], "sort": [{"field": "ord", "order": "ascending"}], "offset": "normalize", "as": ["t0", "t1"]}, {"filter": {"field": "subset", "oneOf": ["IFNγ⁺ TNFα⁺ IL2⁺", "IFNγ⁺ TNFα⁺ IL2⁻", "IFNγ⁺ TNFα⁻ IL2⁻", "IFNγ⁺ TNFα⁻ IL2⁺"]}}],
             "mark": {"type": "arc", "radius": 37.5, "radius2": 37.5, "filled": false, "strokeWidth": 2.6},
             "encoding": {"theta": {"field": "t0", "type": "quantitative", "scale": {"domain": [0, 1], "range": [0, 6.2831]}}, "theta2": {"field": "t1"},
               "stroke": {"datum": "IFNγ⁺", "type": "nominal", "scale": {"domain": ["IFNγ⁺", "TNFα⁺"], "range": ["black", "#9b9b9b"]}}}}
          ]
        },
        {
          "width": 167, "height": 110,
          "title": {"text": "D", "orient": "top", "anchor": "start", "frame": "group", "fontSize": 19, "fontWeight": "bold", "color": "black", "dx": -34, "dy": 56},
          "encoding": {
            "x": {"field": "stim", "type": "nominal", "scale": {"type": "point", "domain": ["rNS3", "NS3 pepmix"], "padding": 0.494, "align": 0.52}, "axis": null},
            "y": {"datum": "c", "type": "nominal", "scale": {"type": "point", "align": 0.636}, "axis": null}
          },
          "layer": [
            {"data": {"name": "pies"}, "transform": [{"filter": "datum.panel === 'D'"}, {"stack": "value", "groupby": ["stim"], "sort": [{"field": "ord", "order": "ascending"}], "offset": "normalize", "as": ["t0", "t1"]}, {"filter": "datum.subset !== 'none'"}],
             "mark": {"type": "arc", "radius": 31, "stroke": "#333", "strokeWidth": 0.4},
             "encoding": {"theta": {"field": "t0", "type": "quantitative", "scale": {"domain": [0, 1], "range": [0, 6.2831]}}, "theta2": {"field": "t1"},
               "color": {"field": "subset", "type": "nominal", "scale": {"domain": ["IFNγ⁺ TNFα⁺ IL2⁺", "IFNγ⁺ TNFα⁺ IL2⁻", "IFNγ⁻ TNFα⁺ IL2⁺", "IFNγ⁻ TNFα⁺ IL2⁻", "IFNγ⁻ TNFα⁻ IL2⁺", "IFNγ⁺ TNFα⁻ IL2⁻", "IFNγ⁺ TNFα⁻ IL2⁺"], "range": ["#50b848", "#f7982a", "#3d72bd", "#cde8f4", "#72c9ef", "#c1262c", "#f6dc45"]}}}},
            {"data": {"name": "pies"}, "transform": [{"filter": "datum.panel === 'D'"}, {"stack": "value", "groupby": ["stim"], "sort": [{"field": "ord", "order": "ascending"}], "offset": "normalize", "as": ["t0", "t1"]}, {"filter": "datum.subset === 'none'"}],
             "mark": {"type": "arc", "radius": 33, "fill": "white", "stroke": "#9b9b9b", "strokeWidth": 1},
             "encoding": {"theta": {"field": "t0", "type": "quantitative", "scale": {"domain": [0, 1], "range": [0, 6.2831]}}, "theta2": {"field": "t1"}}},
            {"data": {"name": "pies"}, "transform": [{"filter": "datum.panel === 'D'"}, {"stack": "value", "groupby": ["stim"], "sort": [{"field": "ord", "order": "ascending"}], "offset": "normalize", "as": ["t0", "t1"]}, {"filter": {"field": "subset", "oneOf": ["IFNγ⁺ TNFα⁺ IL2⁺", "IFNγ⁺ TNFα⁺ IL2⁻", "IFNγ⁻ TNFα⁺ IL2⁺", "IFNγ⁻ TNFα⁺ IL2⁻"]}}],
             "mark": {"type": "arc", "radius": 33.5, "radius2": 33.5, "filled": false, "strokeWidth": 2.6},
             "encoding": {"theta": {"field": "t0", "type": "quantitative", "scale": {"domain": [0, 1], "range": [0, 6.2831]}}, "theta2": {"field": "t1"},
               "stroke": {"datum": "TNFα⁺", "type": "nominal", "scale": {"domain": ["IFNγ⁺", "TNFα⁺"], "range": ["black", "#9b9b9b"]}}}},
            {"data": {"name": "pies"}, "transform": [{"filter": "datum.panel === 'D'"}, {"stack": "value", "groupby": ["stim"], "sort": [{"field": "ord", "order": "ascending"}], "offset": "normalize", "as": ["t0", "t1"]}, {"filter": {"field": "subset", "oneOf": ["IFNγ⁺ TNFα⁺ IL2⁺", "IFNγ⁺ TNFα⁺ IL2⁻", "IFNγ⁺ TNFα⁻ IL2⁻", "IFNγ⁺ TNFα⁻ IL2⁺"]}}],
             "mark": {"type": "arc", "radius": 37.5, "radius2": 37.5, "filled": false, "strokeWidth": 2.6},
             "encoding": {"theta": {"field": "t0", "type": "quantitative", "scale": {"domain": [0, 1], "range": [0, 6.2831]}}, "theta2": {"field": "t1"},
               "stroke": {"datum": "IFNγ⁺", "type": "nominal", "scale": {"domain": ["IFNγ⁺", "TNFα⁺"], "range": ["black", "#9b9b9b"]}}}}
          ]
        },
        {
          "width": 167, "height": 110,
          "title": {"text": "F", "orient": "top", "anchor": "start", "frame": "group", "fontSize": 19, "fontWeight": "bold", "color": "black", "dx": -37, "dy": 56},
          "encoding": {
            "x": {"field": "stim", "type": "nominal", "scale": {"type": "point", "domain": ["rNS3", "NS3 pepmix"], "padding": 0.693, "align": 0.4}, "axis": null},
            "y": {"datum": "c", "type": "nominal", "scale": {"type": "point", "align": 0.636}, "axis": null}
          },
          "layer": [
            {"data": {"name": "pies"}, "transform": [{"filter": "datum.panel === 'F'"}, {"stack": "value", "groupby": ["stim"], "sort": [{"field": "ord", "order": "ascending"}], "offset": "normalize", "as": ["t0", "t1"]}, {"filter": "datum.subset !== 'none'"}],
             "mark": {"type": "arc", "radius": 31, "stroke": "#333", "strokeWidth": 0.4},
             "encoding": {"theta": {"field": "t0", "type": "quantitative", "scale": {"domain": [0, 1], "range": [0, 6.2831]}}, "theta2": {"field": "t1"},
               "color": {"field": "subset", "type": "nominal", "scale": {"domain": ["IFNγ⁺ TNFα⁺ IL2⁺", "IFNγ⁺ TNFα⁺ IL2⁻", "IFNγ⁻ TNFα⁺ IL2⁺", "IFNγ⁻ TNFα⁺ IL2⁻", "IFNγ⁻ TNFα⁻ IL2⁺", "IFNγ⁺ TNFα⁻ IL2⁻", "IFNγ⁺ TNFα⁻ IL2⁺"], "range": ["#50b848", "#f7982a", "#3d72bd", "#cde8f4", "#72c9ef", "#c1262c", "#f6dc45"]}}}},
            {"data": {"name": "pies"}, "transform": [{"filter": "datum.panel === 'F'"}, {"stack": "value", "groupby": ["stim"], "sort": [{"field": "ord", "order": "ascending"}], "offset": "normalize", "as": ["t0", "t1"]}, {"filter": {"field": "subset", "oneOf": ["IFNγ⁺ TNFα⁺ IL2⁺", "IFNγ⁺ TNFα⁺ IL2⁻", "IFNγ⁻ TNFα⁺ IL2⁺", "IFNγ⁻ TNFα⁺ IL2⁻"]}}],
             "mark": {"type": "arc", "radius": 33.5, "radius2": 33.5, "filled": false, "strokeWidth": 2.6},
             "encoding": {"theta": {"field": "t0", "type": "quantitative", "scale": {"domain": [0, 1], "range": [0, 6.2831]}}, "theta2": {"field": "t1"},
               "stroke": {"datum": "TNFα⁺", "type": "nominal", "scale": {"domain": ["IFNγ⁺", "TNFα⁺"], "range": ["black", "#9b9b9b"]}}}},
            {"data": {"name": "pies"}, "transform": [{"filter": "datum.panel === 'F'"}, {"stack": "value", "groupby": ["stim"], "sort": [{"field": "ord", "order": "ascending"}], "offset": "normalize", "as": ["t0", "t1"]}, {"filter": {"field": "subset", "oneOf": ["IFNγ⁺ TNFα⁺ IL2⁺", "IFNγ⁺ TNFα⁺ IL2⁻", "IFNγ⁺ TNFα⁻ IL2⁻", "IFNγ⁺ TNFα⁻ IL2⁺"]}}],
             "mark": {"type": "arc", "radius": 37.5, "radius2": 37.5, "filled": false, "strokeWidth": 2.6},
             "encoding": {"theta": {"field": "t0", "type": "quantitative", "scale": {"domain": [0, 1], "range": [0, 6.2831]}}, "theta2": {"field": "t1"},
               "stroke": {"datum": "IFNγ⁺", "type": "nominal", "scale": {"domain": ["IFNγ⁺", "TNFα⁺"], "range": ["black", "#9b9b9b"]}}}},
            {"data": {"values": [{"stim": "rNS3", "label": "N.D."}]}, "mark": {"type": "text", "fontSize": 12, "color": "#222", "dy": -3}, "encoding": {"text": {"field": "label"}}}
          ]
        },
        {
          "width": 160, "height": 110,
          "resolve": {"axis": {"y": "independent"}},
          "encoding": {
            "x": {"field": "cyto", "type": "nominal", "sort": ["IFN-γ", "TNF-α", "IL-2"], "scale": {"paddingInner": 0, "paddingOuter": 0}, "axis": {"title": null, "labelAngle": -45, "labelFontSize": 9, "labelFontWeight": "bold", "tickSize": 4, "labelPadding": 2}},
            "xOffset": {"field": "group", "type": "nominal", "scale": {"type": "point", "domain": ["Control", "m1", "rNS3", "m2", "NS3 pepmix"], "padding": 1.55}}
          },
          "layer": [
            {"data": {"name": "bars"}, "transform": [{"filter": "datum.panel === 'B'"}], "mark": {"type": "bar", "width": 11, "stroke": "black", "strokeWidth": 1.5},
             "encoding": {"y": {"field": "value", "type": "quantitative", "scale": {"domain": [0, 1.5], "nice": false}, "axis": {"values": [0, 0.5, 1, 1.5], "format": ".1f", "title": "% cytokine producing cells", "titleFontSize": 10, "titleFontWeight": "normal", "titleColor": "#333", "titlePadding": 4, "labelFontSize": 8, "labelFontWeight": "bold", "tickSize": 4}},
               "fill": {"field": "group", "type": "nominal", "scale": {"domain": ["Control", "rNS3", "NS3 pepmix"], "range": ["#c8c8c8", "#ffffff", "#000000"]}}}},
            {"data": {"name": "bars"}, "transform": [{"filter": "datum.panel === 'B'"}], "mark": {"type": "rule", "color": "black", "strokeWidth": 1.5}, "encoding": {"y": {"field": "value", "type": "quantitative", "axis": null}, "y2": {"field": "hi"}}},
            {"data": {"name": "bars"}, "transform": [{"filter": "datum.panel === 'B'"}], "mark": {"type": "tick", "orient": "horizontal", "size": 7, "thickness": 1.5, "color": "black"}, "encoding": {"y": {"field": "hi", "type": "quantitative", "axis": null}}},
            {"data": {"name": "sig"}, "transform": [{"filter": "datum.panel === 'B'"}], "mark": {"type": "line", "color": "#222", "strokeWidth": 1.2}, "encoding": {"y": {"field": "y", "type": "quantitative", "axis": null}, "detail": {"field": "id"}}},
            {"data": {"name": "sigtext"}, "transform": [{"filter": "datum.panel === 'B'"}], "mark": {"type": "text", "fontSize": 8, "baseline": "bottom", "dy": -1, "color": "#222"}, "encoding": {"y": {"field": "y", "type": "quantitative", "axis": null}, "text": {"field": "label"}}},
            {"data": {"name": "bars"}, "transform": [{"filter": "datum.panel === 'B'"}], "mark": {"type": "tick", "opacity": 0}, "encoding": {"y": {"field": "value", "type": "quantitative", "axis": {"orient": "left", "offset": 32, "ticks": false, "labels": false, "domainWidth": 1.5, "title": "CD8⁺ T cells", "titleFontSize": 14, "titleFontWeight": "bold", "titleColor": "black", "titlePadding": 4}}}}
          ]
        },
        {
          "width": 167, "height": 110,
          "resolve": {"axis": {"y": "independent"}},
          "encoding": {
            "x": {"field": "cyto", "type": "nominal", "sort": ["IFN-γ", "TNF-α", "IL-2"], "scale": {"paddingInner": 0, "paddingOuter": 0}, "axis": {"title": null, "labelAngle": -45, "labelFontSize": 9, "labelFontWeight": "bold", "tickSize": 4, "labelPadding": 2}},
            "xOffset": {"field": "group", "type": "nominal", "scale": {"type": "point", "domain": ["Control", "m1", "rNS3", "m2", "NS3 pepmix"], "padding": 1.7}}
          },
          "layer": [
            {"data": {"name": "bars"}, "transform": [{"filter": "datum.panel === 'D'"}], "mark": {"type": "bar", "width": 11, "stroke": "black", "strokeWidth": 1.5},
             "encoding": {"y": {"field": "value", "type": "quantitative", "scale": {"domain": [0, 0.3], "nice": false}, "axis": {"values": [0, 0.1, 0.2, 0.3], "format": ".1f", "title": null, "labelFontSize": 8, "labelFontWeight": "bold", "tickSize": 4}},
               "fill": {"field": "group", "type": "nominal", "scale": {"domain": ["Control", "rNS3", "NS3 pepmix"], "range": ["#c8c8c8", "#ffffff", "#000000"]}}}},
            {"data": {"name": "bars"}, "transform": [{"filter": "datum.panel === 'D'"}], "mark": {"type": "rule", "color": "black", "strokeWidth": 1.5}, "encoding": {"y": {"field": "value", "type": "quantitative", "axis": null}, "y2": {"field": "hi"}}},
            {"data": {"name": "bars"}, "transform": [{"filter": "datum.panel === 'D'"}], "mark": {"type": "tick", "orient": "horizontal", "size": 7, "thickness": 1.5, "color": "black"}, "encoding": {"y": {"field": "hi", "type": "quantitative", "axis": null}}}
          ]
        },
        {
          "width": 167, "height": 110,
          "resolve": {"axis": {"y": "independent"}},
          "encoding": {
            "x": {"field": "cyto", "type": "nominal", "sort": ["IFN-γ", "TNF-α", "IL-2"], "scale": {"paddingInner": 0, "paddingOuter": 0}, "axis": {"title": null, "labelAngle": -45, "labelFontSize": 9, "labelFontWeight": "bold", "tickSize": 4, "labelPadding": 2}},
            "xOffset": {"field": "group", "type": "nominal", "scale": {"type": "point", "domain": ["Control", "mid", "NS3 pepmix"], "padding": 1.53}}
          },
          "layer": [
            {"data": {"name": "bars"}, "transform": [{"filter": "datum.panel === 'F'"}], "mark": {"type": "bar", "width": 12, "stroke": "black", "strokeWidth": 1.5},
             "encoding": {"y": {"field": "value", "type": "quantitative", "scale": {"domain": [0, 1.5], "nice": false}, "axis": {"values": [0, 0.5, 1, 1.5], "format": ".1f", "title": null, "labelFontSize": 8, "labelFontWeight": "bold", "tickSize": 4}},
               "fill": {"field": "group", "type": "nominal", "scale": {"domain": ["Control", "rNS3", "NS3 pepmix"], "range": ["#c8c8c8", "#ffffff", "#000000"]}}}},
            {"data": {"name": "bars"}, "transform": [{"filter": "datum.panel === 'F'"}], "mark": {"type": "rule", "color": "black", "strokeWidth": 1.5}, "encoding": {"y": {"field": "value", "type": "quantitative", "axis": null}, "y2": {"field": "hi"}}},
            {"data": {"name": "bars"}, "transform": [{"filter": "datum.panel === 'F'"}], "mark": {"type": "tick", "orient": "horizontal", "size": 7, "thickness": 1.5, "color": "black"}, "encoding": {"y": {"field": "hi", "type": "quantitative", "axis": null}}},
            {"data": {"name": "sig"}, "transform": [{"filter": "datum.panel === 'F'"}], "mark": {"type": "line", "color": "#222", "strokeWidth": 1.2}, "encoding": {"y": {"field": "y", "type": "quantitative", "axis": null}, "detail": {"field": "id"}}},
            {"data": {"name": "sigtext"}, "transform": [{"filter": "datum.panel === 'F'"}], "mark": {"type": "text", "fontSize": 8, "baseline": "bottom", "dy": -1, "color": "#222"}, "encoding": {"y": {"field": "y", "type": "quantitative", "axis": null}, "text": {"field": "label"}}}
          ]
        }
      ]
    }
  ]
}
